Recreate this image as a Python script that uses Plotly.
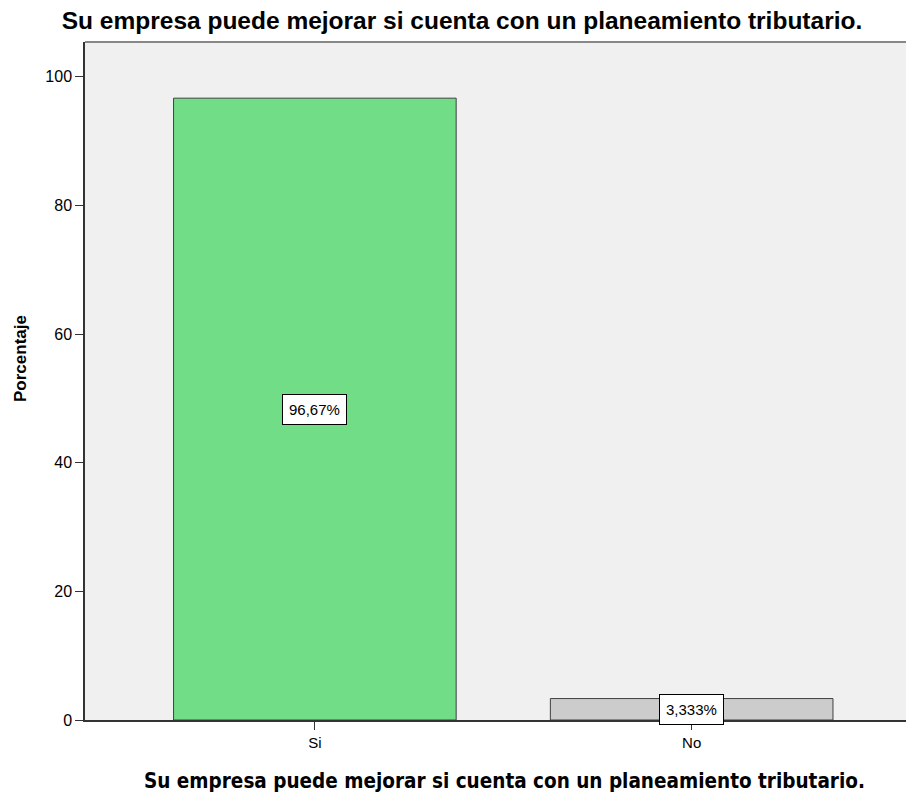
import plotly.graph_objects as go

categories = ["Si", "No"]
values = [96.67, 3.333]
labels = ["96,67%", "3,333%"]
colors = ["#71DD86", "#CCCCCC"]
title_text = "Su empresa puede mejorar si cuenta con un planeamiento tributario."
y_title = "Porcentaje"

W, H = 906, 789
L, T, B = 77, 34, 77
PW, PH = W - L, H - T - B

fig = go.Figure()
fig.add_trace(go.Bar(
    x=[0, 1], y=values, width=0.75,
    marker=dict(color=colors, line=dict(color="#404040", width=1)),
    hoverinfo="skip",
))
for i, (v, lab) in enumerate(zip(values, labels)):
    fig.add_annotation(
        x=i, y=v / 2, text=lab, showarrow=False,
        font=dict(family="Liberation Sans, Arial", size=15, color="black"),
        bgcolor="white", bordercolor="black", borderwidth=1, borderpad=6,
    )

# axis titles as annotations for exact placement
fig.add_annotation(
    xref="paper", yref="paper", x=(504 - 8 - L) / PW, y=-(781 - 8 - (T + PH)) / PH,
    text="<b>" + title_text + "</b>", showarrow=False, xanchor="center", yanchor="middle",
    font=dict(family="DejaVu Sans Condensed, DejaVu Sans", size=20.5, color="black"),
)
fig.add_annotation(
    xref="paper", yref="paper", x=(20 - 8 - L) / PW, y=(T + PH - (359 - 8)) / PH,
    text="<b>" + y_title + "</b>", showarrow=False, textangle=-90,
    xanchor="center", yanchor="middle",
    font=dict(family="Liberation Sans, Arial", size=17, color="black"),
)

fig.update_layout(
    width=W, height=H,
    margin=dict(l=L, r=0, t=T, b=B, pad=0),
    paper_bgcolor="white", plot_bgcolor="#F0F0F0",
    showlegend=False,
    title=dict(text="<b>" + title_text + "</b>", x=(462 - 8) / W, xanchor="center",
               y=1 - 12 / H, yanchor="middle",
               font=dict(family="Liberation Sans, Arial", size=24.5, color="black")),
    xaxis=dict(
        tickmode="array", tickvals=[0, 1], ticktext=categories,
        range=[-0.61, 1.59], showgrid=False, zeroline=False,
        showline=True, linecolor="#333", linewidth=1.5,
        ticks="outside", ticklen=8, tickcolor="#333",
        tickfont=dict(family="Liberation Sans, Arial", size=15, color="black"),
    ),
    yaxis=dict(
        range=[0, 105.4], tickvals=[0, 20, 40, 60, 80, 100],
        showgrid=False, zeroline=False,
        showline=True, linecolor="#333", linewidth=1.5,
        ticks="outside", ticklen=8, tickcolor="#333",
        tickfont=dict(family="Liberation Sans, Arial", size=16, color="black"),
    ),
    shapes=[dict(type="line", xref="paper", yref="paper", x0=0, x1=1, y0=1, y1=1,
                 line=dict(color="#888", width=2))],
)
fig.write_html("out.html")
